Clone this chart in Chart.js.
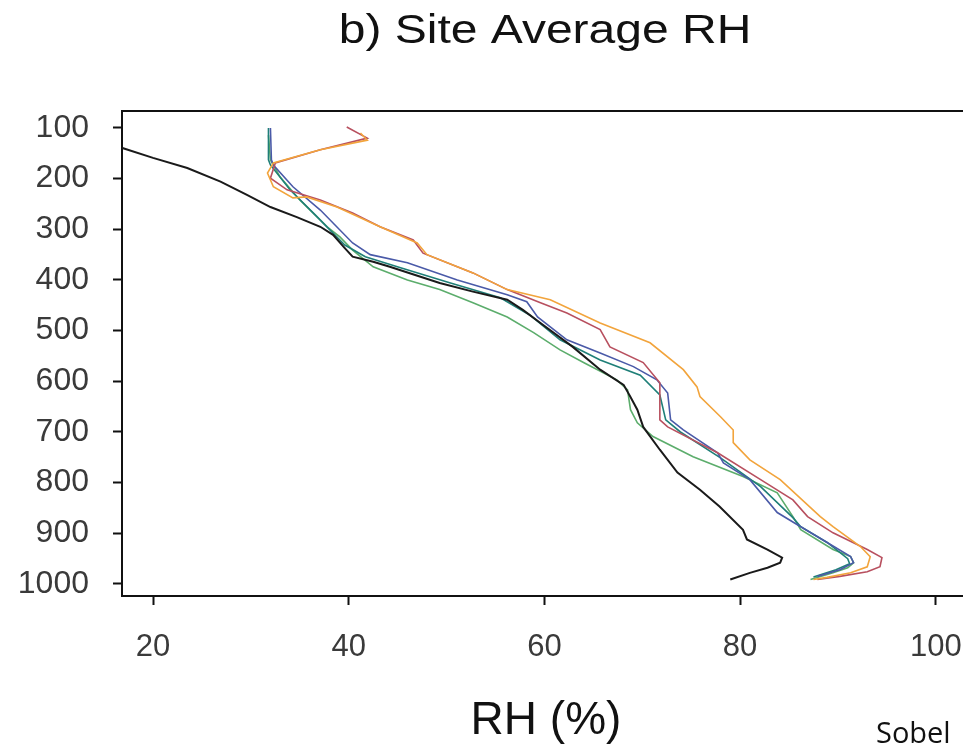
<!DOCTYPE html>
<html>
<head>
<meta charset="utf-8">
<script src="https://cdn.jsdelivr.net/npm/chart.js@4.4.1/dist/chart.umd.min.js"></script>
<style>
  html, body { margin: 0; padding: 0; background: #ffffff; overflow: hidden; width: 963px; height: 751px; }
  #wrap { position: absolute; left: 0; top: 0; width: 990px; height: 751px; }
</style>
</head>
<body>
<div id="wrap"><canvas id="c"></canvas></div>
<script>
// ---- Text ----
const chartTitle = "b) Site Average RH";
const xAxisTitle = "RH (%)";
const creditText = "Sobel";

// ---- Tick labels ----
const xTicks = [20, 40, 60, 80, 100];
const yTicks = [100, 200, 300, 400, 500, 600, 700, 800, 900, 1000];

// ---- Series (RH %, pressure hPa) ----
const blackRH = [16.0, 20.0, 23.5, 26.9, 29.6, 32.0, 34.7, 37.1, 38.4, 39.6, 40.4, 42.5, 44.2, 49.3, 52.7, 56.2, 57.8, 59.6, 62.9, 65.7, 68.1, 68.8, 69.5, 70.1, 71.8, 73.6, 75.9, 77.9, 80.3, 80.7, 82.8, 84.3, 84.1, 82.8, 81.0, 79.0];
const blackP  = [134, 159, 179, 206, 232, 256, 276, 295, 311, 337, 354, 364, 374, 406, 423, 439, 459, 485, 532, 577, 607, 631, 656, 690, 735, 780, 814, 847, 893, 912, 932, 948, 958, 968, 978, 991];

const greenRH = [31.8, 32.0, 33.0, 35.0, 37.8, 39.1, 40.4, 42.5, 46.0, 49.3, 52.7, 56.2, 58.9, 61.6, 64.0, 67.4, 68.5, 68.8, 69.5, 71.1, 75.2, 80.3, 83.8, 85.4, 86.2, 89.5, 91.3, 91.6, 91.0, 89.5, 87.2];
const greenP  = [114, 163, 197, 242, 295, 315, 341, 374, 400, 419, 445, 473, 504, 538, 563, 597, 617, 656, 682, 709, 749, 788, 820, 867, 893, 932, 946, 958, 968, 978, 991];

const tealRH = [31.8, 31.8, 32.0, 34.0, 36.6, 39.6, 41.7, 45.3, 50.4, 55.5, 58.5, 61.6, 65.7, 69.8, 71.8, 72.4, 73.9, 78.0, 82.1, 85.4, 86.2, 88.9, 91.0, 91.2, 89.8, 87.5];
const tealP  = [100, 163, 173, 222, 272, 331, 354, 376, 406, 435, 469, 518, 558, 588, 627, 676, 700, 751, 808, 869, 887, 918, 950, 960, 972, 986];

const blueRH = [32.0, 32.1, 32.3, 34.3, 37.1, 40.4, 42.2, 46.0, 51.1, 56.2, 58.2, 59.3, 62.3, 65.7, 69.1, 71.5, 72.6, 72.9, 74.2, 77.7, 78.3, 81.0, 83.8, 86.2, 88.9, 91.3, 91.6, 90.2, 87.9];
const blueP  = [100, 163, 173, 216, 262, 327, 350, 366, 400, 429, 443, 473, 518, 544, 571, 597, 623, 676, 696, 741, 761, 794, 859, 887, 918, 946, 958, 972, 985];

const redRH = [39.8, 41.9, 37.1, 32.5, 32.0, 33.7, 37.1, 40.4, 43.2, 46.6, 47.6, 52.7, 56.2, 59.6, 62.3, 65.7, 66.7, 70.1, 71.8, 71.8, 72.6, 77.7, 82.1, 85.4, 86.9, 89.5, 93.0, 94.5, 94.3, 93.0, 90.2, 87.9];
const redP  = [98, 120, 143, 169, 199, 222, 242, 268, 295, 321, 347, 386, 419, 445, 465, 498, 532, 563, 603, 676, 690, 741, 794, 834, 867, 899, 932, 948, 966, 976, 985, 991];

const orangeRH = [41.2, 41.9, 37.1, 32.3, 31.7, 32.3, 34.3, 35.7, 38.8, 43.2, 47.0, 48.0, 52.7, 56.2, 60.6, 65.7, 70.8, 74.2, 75.6, 75.9, 78.0, 79.3, 79.3, 81.0, 84.1, 88.2, 89.5, 92.3, 93.3, 93.0, 91.3, 88.9, 87.5];
const orangeP  = [110, 124, 143, 169, 189, 216, 238, 236, 256, 295, 327, 350, 386, 419, 439, 485, 524, 577, 611, 630, 670, 696, 721, 755, 794, 867, 887, 926, 946, 966, 978, 987, 991];

function pts(rh, p) { return rh.map((v, i) => ({ x: v, y: p[i] })); }

function ds(rh, p, color, w) {
  return { data: pts(rh, p), borderColor: color, backgroundColor: color, borderWidth: w,
           showLine: true, pointRadius: 0, pointHoverRadius: 0, tension: 0, fill: false };
}

const frame = {
  id: 'frame',
  afterDraw(chart) {
    const ctx = chart.ctx, a = chart.chartArea;
    ctx.save();
    ctx.strokeStyle = '#111';
    ctx.lineWidth = 2;
    ctx.beginPath();
    ctx.moveTo(a.left - 1, a.top);
    ctx.lineTo(a.right, a.top);
    ctx.stroke();
    ctx.fillStyle = '#111';
    ctx.font = '40px "Liberation Sans", Arial, sans-serif';
    ctx.textAlign = 'center';
    ctx.textBaseline = 'alphabetic';
    ctx.translate(545, 43);
    ctx.scale(1.2, 1);
    ctx.fillText(chartTitle, 0, 0);
    ctx.restore();
    ctx.save();
    ctx.fillStyle = '#111';
    ctx.font = '29px "Open Sans", sans-serif';
    ctx.textAlign = 'left';
    ctx.textBaseline = 'alphabetic';
    ctx.fillText(creditText, 876, 743);
    ctx.restore();
  }
};

new Chart(document.getElementById('c'), {
  type: 'scatter',
  data: {
    datasets: [
      ds(blackRH, blackP, '#1a1a1a', 2),
      ds(orangeRH, orangeP, '#f2a43c', 1.6),
      ds(redRH, redP, '#b8505f', 1.6),
      ds(blueRH, blueP, '#4a5aa8', 1.6),
      ds(tealRH, tealP, '#1f7f78', 1.6),
      ds(greenRH, greenP, '#5cad6c', 1.6)
    ]
  },
  options: {
    responsive: true,
    maintainAspectRatio: false,
    animation: false,
    events: [],
    layout: { padding: { left: 0, right: 20, top: 111, bottom: 0 } },
    plugins: { legend: { display: false }, tooltip: { enabled: false }, title: { display: false } },
    scales: {
      x: {
        type: 'linear',
        min: 16.83,
        max: 103.5,
        afterBuildTicks: (ax) => { ax.ticks = xTicks.map(v => ({ value: v })); },
        afterFit: (ax) => { ax.height = 155; },
        ticks: { color: '#3a3a3a', padding: 24, font: { family: '"Liberation Sans", Arial, sans-serif', size: 31 }, maxRotation: 0, autoSkip: false, callback: (v) => String(v) },
        grid: { display: true, drawOnChartArea: false, drawTicks: true, tickLength: 9, tickWidth: 2, tickColor: '#111' },
        border: { display: true, color: '#111', width: 2 },
        title: { display: true, text: xAxisTitle, color: '#111', padding: { top: 0, bottom: 2 }, font: { family: '"Liberation Sans", Arial, sans-serif', size: 46 } }
      },
      y: {
        type: 'linear',
        reverse: true,
        min: 66.5,
        max: 1023.7,
        afterBuildTicks: (ax) => { ax.ticks = yTicks.map(v => ({ value: v })); },
        afterFit: (ax) => { ax.width = 122; },
        ticks: { color: '#3a3a3a', padding: 24, font: { family: '"Liberation Sans", Arial, sans-serif', size: 32 }, autoSkip: false, callback: (v) => String(v) },
        grid: { display: true, drawOnChartArea: false, drawTicks: true, tickLength: 9, tickWidth: 2, tickColor: '#111' },
        border: { display: true, color: '#111', width: 2 }
      }
    }
  },
  plugins: [frame]
});
</script>
</body>
</html>
